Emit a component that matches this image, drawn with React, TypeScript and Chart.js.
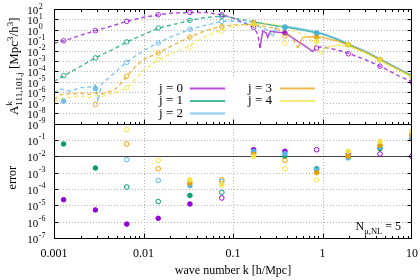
import React, { useEffect, useRef } from "react";
import { Chart, registerables } from "chart.js";

Chart.register(...registerables);

const SERIF = '"Liberation Serif", "DejaVu Serif", "Times New Roman", serif';

const seriesNames = ["j = 0", "j = 1", "j = 2", "j = 3", "j = 4"];
const seriesColors = ["#9400d3", "#009e73", "#56b4e9", "#e69f00", "#f0e442"];

// wave numbers of the sampled points (circles)
const kPoints = [0.00128, 0.0029, 0.0065, 0.0146, 0.033, 0.075, 0.17, 0.38, 0.86, 1.94, 4.39, 9.93];

// reference curves, signed (negative parts are plotted as |A| with dashes)
const kCurve0 = [0.001, 0.0013, 0.002, 0.003, 0.005, 0.0065, 0.01, 0.015, 0.02, 0.033, 0.05, 0.075, 0.1, 0.13, 0.17, 0.19, 0.2, 0.215, 0.235, 0.245, 0.26, 0.3, 0.38, 0.5, 0.6, 0.7, 0.77, 0.85, 1, 1.5, 2, 3, 4.4, 7, 10];
const aCurve0 = [-0.052, -0.089, -0.31, -0.89, -3.2, -6.5, -16, -28, -40, -47, -45, -28, -14, -4.6, -1.8, -0.35, -0.018, 0.79, 0.5, 0.19, 0.71, 0.63, 0.5, 0.11, 0.04, 0.016, 0.008, -0.018, -0.024, -0.011, -0.005, -0.0014, -0.00032, -0.00004, -0.00001];

const kCurve1 = [0.001, 0.0013, 0.002, 0.0029, 0.005, 0.0065, 0.01, 0.0146, 0.02, 0.033, 0.05, 0.075, 0.1, 0.13, 0.16, 0.17, 0.25, 0.38, 0.5, 0.7, 1, 1.5, 2, 3, 4.4, 7, 10];
const aCurve1 = [-1.15e-5, -4.0e-5, -3.2e-4, -2.0e-3, -0.02, -0.069, -0.35, -1.4, -2.8, -8.1, -15.8, -20, -14, -8.9, -6.3, 5.6, 3.2, 1.9, 1.26, 0.71, 0.4, 0.11, 0.035, 0.0079, 0.0014, 0.00018, 0.000035];

const kCurve2 = [0.001, 0.0012, 0.0015, 0.002, 0.0025, 0.0029, 0.0031, 0.0034, 0.004, 0.005, 0.0065, 0.01, 0.0146, 0.02, 0.033, 0.05, 0.075, 0.1, 0.15, 0.2, 0.25, 0.28, 0.3, 0.38, 0.5, 0.7, 0.86, 1, 1.5, 2, 3, 4.4, 7, 10];
const aCurve2 = [-8.9e-7, -2.0e-6, -1.26e-6, -2.8e-6, -3.2e-6, -5.0e-6, -1.26e-7, -6.3e-6, -2.0e-5, -1.1e-4, -7.9e-4, -0.01, -0.056, -0.2, -1.12, -2.8, -6.3, -7.6, -4.0, -2.0, -0.79, -0.23, 2.0, 2.2, 1.6, 0.89, 0.63, 0.45, 0.126, 0.04, 0.0089, 0.0016, 0.0002, 0.00004];

const kCurve3 = [0.001, 0.0012, 0.0015, 0.002, 0.0025, 0.003, 0.0035, 0.004, 0.0048, 0.0055, 0.0065, 0.008, 0.01, 0.0146, 0.02, 0.033, 0.05, 0.075, 0.1, 0.15, 0.2, 0.29, 0.38, 0.45, 0.53, 0.6, 0.7, 0.86, 1, 1.5, 2, 3, 4.4, 7, 10];
const aCurve3 = [-2.0e-7, -6.3e-7, -7.1e-7, -7.9e-7, -6.3e-7, -8.9e-7, -7.1e-7, -1.0e-6, -1.8e-6, -6.3e-6, -3.5e-5, -2.5e-4, -1.4e-3, -6.0e-3, -0.025, -0.2, -0.89, -2.2, -2.8, -3.2, -2.5, -1.5, -0.63, -0.23, -0.018, 0.18, 0.22, 0.2, 0.18, 0.079, 0.032, 0.0071, 0.0013, 0.00016, 0.000032];

const kCurve4 = [0.001, 0.0012, 0.0015, 0.002, 0.0025, 0.003, 0.0035, 0.004, 0.005, 0.0065, 0.008, 0.01, 0.0146, 0.02, 0.033, 0.05, 0.075, 0.1, 0.15, 0.2, 0.25, 0.3, 0.55, 0.7, 0.9, 0.97, 1.05, 1.2, 1.5, 2, 3, 4.4, 7, 10];
const aCurve4 = [-1.26e-7, -2.5e-7, -3.2e-7, -4.5e-7, -3.2e-7, -5.0e-7, -4.0e-7, -6.3e-7, -1.0e-6, -2.7e-6, -1.6e-5, -1.26e-4, -1.26e-3, -5.0e-3, -0.032, -0.25, -1.0, -2.2, -3.5, -3.5, -4.0, -3.2, -0.5, -0.16, -0.0126, -0.004, 0.016, 0.025, 0.035, 0.025, 0.0063, 0.0011, 0.00014, 0.000028];

// sampled values (signed: negative -> open circle)
const ptA0 = [-0.089, -0.83, -6.5, -28, -47, -28, -1.7, 0.5, -0.018, -0.005, -0.00032, -0.00001];
const ptA1 = [-4.0e-5, -2.0e-3, -0.069, -1.5, -8.1, -20, 4.6, 1.7, 0.45, 0.038, 0.0014, 0.00004];
const ptA2 = [1.4e-7, 2.3e-6, -7.6e-4, -0.055, -1.12, -6.5, 4.6, 1.9, 0.5, 0.04, 0.0014, 0.00004];
const ptA3 = [null, -6.8e-8, -3.5e-5, -6.0e-3, -0.2, -2.1, 4.6, -0.25, 0.19, 0.038, 0.0014, 0.000032];
const ptA4 = [null, null, -2.7e-6, -1.4e-3, -0.021, -0.71, 3.5, -0.05, 0.079, 0.04, 0.0014, 0.000032];

// relative errors (signed: negative -> open circle)
const err0 = [2.2e-5, 5.2e-6, 7.1e-7, 1.6e-6, 1.2e-5, -2.8e-5, 0.025, 0.02, -0.025, -0.0126, -0.0138, -0.01];
const err1 = [0.056, 1.9e-3, -1.3e-4, -1.7e-5, 4.0e-5, -6.2e-5, 0.016, 0.01, 1.7e-3, 0.009, 0.03, 0.12];
const err2 = [null, null, -6.2e-3, -3.3e-4, 1.6e-4, -2.8e-4, 0.02, 0.0145, 1.5e-3, 0.0079, 0.035, 0.13];
const err3 = [null, null, -0.056, -1.7e-3, 2.3e-4, -3.6e-4, 0.0126, -5.6e-3, 1.0e-3, 0.01, 0.047, 0.21];
const err4 = [null, null, -0.43, -5.6e-3, 3.6e-4, 1.8e-4, 0.01, -1.7e-3, -3.6e-4, 0.02, 0.083, 0.34];

// axis ticks
const xTickValues = [0.001, 0.01, 0.1, 1, 10];
const xTickLabels = ["0.001", "0.01", "0.1", "1", "10"];
const topExponents = [2, 1, 0, -1, -2, -3, -4, -5, -6, -7, -8, -9];
const bottomExponents = [-1, -2, -3, -4, -5, -6, -7];
const errorRefLine = 1e-2;

function rgba(hex: string, a: number) {
  const n = parseInt(hex.slice(1), 16);
  return `rgba(${(n >> 16) & 255},${(n >> 8) & 255},${n & 255},${a})`;
}

type Part = { t: string; s: number; dy: number; keep?: boolean };

function drawRich(ctx: CanvasRenderingContext2D, parts: Part[], x: number, y: number, draw = true): number {
  let cx = x;
  let pending = 0;
  ctx.textAlign = "left";
  ctx.textBaseline = "alphabetic";
  for (const p of parts) {
    ctx.font = `${p.s}px ${SERIF}`;
    const w = ctx.measureText(p.t).width;
    if (draw) ctx.fillText(p.t, cx, y + p.dy);
    if (p.keep) pending = Math.max(pending, w);
    else {
      cx += Math.max(w, pending);
      pending = 0;
    }
  }
  return cx - x;
}

function powLabel(ctx: CanvasRenderingContext2D, exp: number, xRight: number, y: number) {
  ctx.fillStyle = "#000";
  ctx.textBaseline = "alphabetic";
  ctx.font = `11px ${SERIF}`;
  ctx.textAlign = "right";
  ctx.fillText("10", xRight, y + 5);
  ctx.font = `8px ${SERIF}`;
  ctx.textAlign = "left";
  ctx.fillText(String(exp), xRight + 0.5, y - 0.5);
}

const decor = {
  id: "decor",
  beforeDatasetsDraw(chart: any) {
    const { ctx, chartArea } = chart;
    const xs = chart.scales.x, yt = chart.scales.yTop, yb = chart.scales.yBot;
    const L = chartArea.left, R = chartArea.right;
    const T = yt.getPixelForValue(1e2), M = yt.getPixelForValue(1e-9), B = yb.getPixelForValue(1e-7);
    ctx.save();
    ctx.strokeStyle = "#b4b4b4";
    ctx.lineWidth = 1;
    ctx.setLineDash([1, 2]);
    const hline = (y: number) => {
      const yy = Math.round(y) + 0.5;
      ctx.beginPath(); ctx.moveTo(L, yy); ctx.lineTo(R, yy); ctx.stroke();
    };
    for (const v of xTickValues.slice(1, -1)) {
      const x = Math.round(xs.getPixelForValue(v)) + 0.5;
      ctx.beginPath(); ctx.moveTo(x, T); ctx.lineTo(x, B); ctx.stroke();
    }
    for (const e of topExponents.slice(1, -1)) hline(yt.getPixelForValue(Math.pow(10, e)));
    for (const e of bottomExponents.slice(0, -1)) {
      if (Math.pow(10, e) === errorRefLine) continue;
      hline(yb.getPixelForValue(Math.pow(10, e)));
    }
    ctx.setLineDash([]);
    ctx.strokeStyle = "#444";
    hline(yb.getPixelForValue(errorRefLine));
    // opaque key box
    ctx.fillStyle = "#fff";
    ctx.fillRect(148, 78, 174, Math.round(M) - 79);
    ctx.restore();
  },
  afterDatasetsDraw(chart: any) {
    const { ctx, chartArea } = chart;
    const xs = chart.scales.x, yt = chart.scales.yTop, yb = chart.scales.yBot;
    const L = chartArea.left, R = chartArea.right;
    const T = yt.getPixelForValue(1e2), M = yt.getPixelForValue(1e-9), B = yb.getPixelForValue(1e-7);
    ctx.save();
    // key
    const rowsY = [88.5, 101, 113.5];
    seriesNames.forEach((name, j) => {
      const col = j < 3 ? 0 : 1;
      const y = rowsY[j % 3];
      const tx = col === 0 ? 183 : 272;
      const lx = col === 0 ? [190, 225] : [280, 315];
      ctx.fillStyle = "#000";
      ctx.font = `13px ${SERIF}`;
      ctx.textAlign = "right";
      ctx.textBaseline = "middle";
      ctx.fillText(name, tx, y);
      ctx.strokeStyle = rgba(seriesColors[j], 0.7);
      ctx.lineWidth = 2;
      ctx.beginPath(); ctx.moveTo(lx[0], y); ctx.lineTo(lx[1], y); ctx.stroke();
    });
    // borders
    ctx.strokeStyle = "#000";
    ctx.lineWidth = 1;
    const rT = Math.round(T) + 0.5, rM = Math.round(M) + 0.5, rB = Math.round(B) + 0.5;
    const rL = Math.round(L) + 0.5, rR = Math.round(R) - 0.5;
    ctx.strokeRect(rL, rT, rR - rL, rM - rT);
    ctx.strokeRect(rL, rM, rR - rL, rB - rM);
    // y ticks
    const ytick = (y: number) => {
      const yy = Math.round(y) + 0.5;
      ctx.beginPath();
      ctx.moveTo(L, yy); ctx.lineTo(L + 4.5, yy);
      ctx.moveTo(R, yy); ctx.lineTo(R - 4.5, yy);
      ctx.stroke();
    };
    topExponents.slice(1, -1).forEach((e) => ytick(yt.getPixelForValue(Math.pow(10, e))));
    bottomExponents.slice(0, -1).forEach((e) => ytick(yb.getPixelForValue(Math.pow(10, e))));
    // x ticks
    const xtick = (x: number, len: number) => {
      const xx = Math.round(x) + 0.5;
      ctx.beginPath();
      ctx.moveTo(xx, rT); ctx.lineTo(xx, rT + len);
      ctx.moveTo(xx, rM); ctx.lineTo(xx, rM - len);
      ctx.moveTo(xx, rB); ctx.lineTo(xx, rB - len);
      ctx.stroke();
    };
    xTickValues.slice(0, -1).forEach((d, i) => {
      if (i > 0) xtick(xs.getPixelForValue(d), 5);
      for (let m = 2; m <= 9; m++) xtick(xs.getPixelForValue(d * m), 2.5);
    });
    // tick labels
    topExponents.forEach((e) => powLabel(ctx, e, 38.3, yt.getPixelForValue(Math.pow(10, e))));
    bottomExponents.forEach((e) => powLabel(ctx, e, 38.3, yb.getPixelForValue(Math.pow(10, e))));
    ctx.fillStyle = "#000";
    ctx.font = `12px ${SERIF}`;
    ctx.textAlign = "center";
    ctx.textBaseline = "alphabetic";
    xTickValues.forEach((v, i) => ctx.fillText(xTickLabels[i], xs.getPixelForValue(v), 256.5));
    // axis titles
    ctx.fillText("wave number k [h/Mpc]", (L + R) / 2, 273.5);
    const yParts: Part[] = [
      { t: "A", s: 13, dy: 0 },
      { t: "k", s: 9, dy: -6, keep: true },
      { t: "111,101,j", s: 9, dy: 3.5 },
      { t: " [Mpc", s: 13, dy: 0 },
      { t: "3", s: 9, dy: -5 },
      { t: "/h", s: 13, dy: 0 },
      { t: "3", s: 9, dy: -5 },
      { t: "]", s: 13, dy: 0 },
    ];
    ctx.save();
    ctx.translate(18, (T + M) / 2);
    ctx.rotate(-Math.PI / 2);
    const w = drawRich(ctx, yParts, 0, 0, false);
    drawRich(ctx, yParts, -w / 2, 0, true);
    ctx.restore();
    ctx.save();
    ctx.translate(16, (M + B) / 2 - 3);
    ctx.rotate(-Math.PI / 2);
    ctx.font = `12px ${SERIF}`;
    ctx.textAlign = "center";
    ctx.fillText("error", 0, 0);
    ctx.restore();
    // annotation
    const nParts: Part[] = [
      { t: "N", s: 12, dy: 0 },
      { t: "\u03bc,NL", s: 8.5, dy: 3.5 },
      { t: " = 5", s: 12, dy: 0 },
    ];
    const nw = drawRich(ctx, nParts, 0, 0, false);
    drawRich(ctx, nParts, 401 - nw, 230, true);
    ctx.restore();
  },
};

export default function App() {
  const ref = useRef<HTMLCanvasElement>(null);
  useEffect(() => {
    const canvas = ref.current;
    if (!canvas) return;
    const curvesK = [kCurve0, kCurve1, kCurve2, kCurve3, kCurve4];
    const curvesA = [aCurve0, aCurve1, aCurve2, aCurve3, aCurve4];
    const pts = [ptA0, ptA1, ptA2, ptA3, ptA4];
    const errs = [err0, err1, err2, err3, err4];
    const datasets: any[] = [];
    curvesK.forEach((ks, j) => {
      const vals = curvesA[j];
      const data = ks.map((k, i) => ({ x: k, y: Math.abs(vals[i]), neg: vals[i] < 0 }));
      datasets.push({
        type: "line",
        data,
        xAxisID: "x",
        yAxisID: "yTop",
        borderColor: rgba(seriesColors[j], 0.7),
        borderWidth: 1.5,
        pointRadius: 0,
        tension: 0,
        fill: false,
        order: 30 - j,
        segment: { borderDash: (c: any) => (data[c.p1DataIndex].neg ? [4, 3] : undefined) },
      });
    });
    const addMarkers = (vals: (number | null)[], j: number, axis: string, a: number, order: number) => {
      const data = kPoints
        .map((k, i) => (vals[i] == null ? null : { x: k, y: Math.abs(vals[i] as number), neg: (vals[i] as number) < 0 }))
        .filter((d) => d !== null);
      const col = rgba(seriesColors[j], a);
      datasets.push({
        type: "line",
        showLine: false,
        data,
        xAxisID: "x",
        yAxisID: axis,
        pointRadius: 2.3,
        pointHoverRadius: 2.3,
        pointBorderWidth: 1,
        pointBorderColor: col,
        pointBackgroundColor: (c: any) => (c.raw && c.raw.neg ? "rgba(0,0,0,0)" : col),
        order,
      });
    };
    pts.forEach((v, j) => addMarkers(v, j, "yTop", 0.8, 10 - j));
    errs.forEach((v, j) => addMarkers(v, j, "yBot", 1, 10 - j));

    const chart = new Chart(canvas, {
      type: "line",
      data: { datasets },
      options: {
        responsive: false,
        animation: false,
        events: [],
        layout: { padding: { left: 54, right: 8, top: 9, bottom: 42 } },
        plugins: { legend: { display: false }, tooltip: { enabled: false }, title: { display: false } },
        scales: {
          x: { type: "logarithmic", min: 0.001, max: 10, display: false },
          yBot: { type: "logarithmic", position: "left", stack: "panels", stackWeight: 1, min: 1e-7, max: 1, display: false },
          yTop: { type: "logarithmic", position: "left", stack: "panels", stackWeight: 1, min: 1e-9, max: 1e2, display: false },
        },
      } as any,
      plugins: [decor as any],
    });
    return () => chart.destroy();
  }, []);
  return (
    <div style={{ position: "fixed", left: 0, top: 0, width: 420, height: 280, background: "#fff" }}>
      <canvas ref={ref} width={420} height={280} style={{ display: "block", width: 420, height: 280 }} />
    </div>
  );
}
